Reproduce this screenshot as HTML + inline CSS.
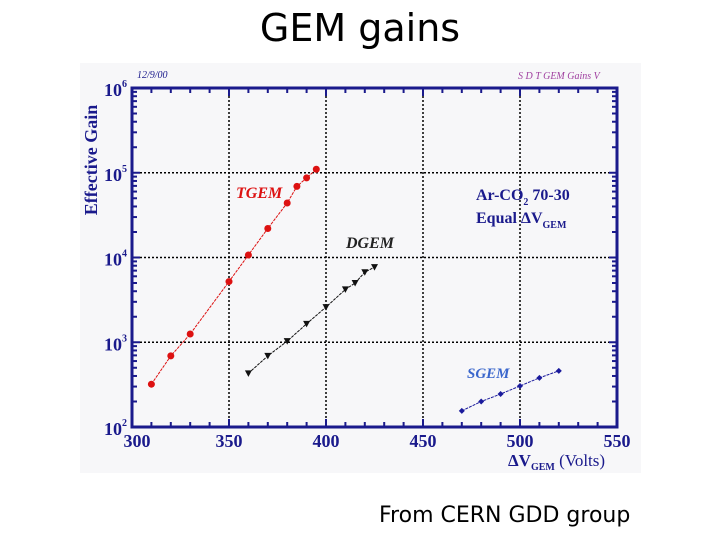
<!DOCTYPE html>
<html><head><meta charset="utf-8"><style>
body{margin:0;background:#fff;width:720px;height:540px;overflow:hidden;position:relative;font-family:"Liberation Sans",sans-serif}
.t{position:absolute;white-space:nowrap}
</style></head><body>
<div class="t" style="left:0;width:720px;top:6px;text-align:center;font-size:38px;font-family:'DejaVu Sans',sans-serif">GEM gains</div>
<div class="t" style="left:379px;top:503px;font-size:22px;font-family:'DejaVu Sans',sans-serif">From CERN GDD group</div>
<svg id="c" style="position:absolute;left:0;top:0" width="720" height="540" font-family="Liberation Serif,serif"></svg>
<script>
const tgemX=[310,320,330,350,360,370,380,385,390,395];
const tgemY=[320,690,1250,5200,10700,22000,44000,69000,87000,110000];
const dgemX=[360,370,380,390,400,410,415,420,425];
const dgemY=[430,690,1030,1650,2600,4200,5000,6700,7700];
const sgemX=[470,480,490,500,510,520];
const sgemY=[155,200,245,305,380,460];
const xTicks=[300,350,400,450,500,550];
const yDecades=[2,3,4,5,6];
const NS='http://www.w3.org/2000/svg';
const svg=document.getElementById('c');
const L=132,R=617,T=88,B=427;
const sx=v=>L+(v-300)/250*(R-L);
const sy=v=>B-(Math.log10(v)-2)/4*(B-T);
function mk(tag,a,parent){const e=document.createElementNS(NS,tag);for(const k in a)e.setAttribute(k,a[k]);(parent||svg).appendChild(e);return e;}
let bg=mk('rect',{x:80,y:63,width:561,height:410,fill:'#f7f7f9'});


const navy='#1a1a8c';
xTicks.slice(1,-1).forEach(v=>{let g=mk('line',{x1:sx(v),x2:sx(v),y1:T,y2:B,stroke:'#000','stroke-width':1.5,'stroke-dasharray':'2,2'});

});
yDecades.slice(1,-1).forEach(d=>{let g=mk('line',{x1:L,x2:R,y1:sy(Math.pow(10,d)),y2:sy(Math.pow(10,d)),stroke:'#000','stroke-width':1.5,'stroke-dasharray':'2,2'});

});
for(let v=300;v<=550;v+=10){const big=v%50==0;const l=big?8:5;
mk('line',{x1:sx(v),x2:sx(v),y1:B,y2:B-l,stroke:navy,'stroke-width':2});
mk('line',{x1:sx(v),x2:sx(v),y1:T,y2:T+l,stroke:navy,'stroke-width':2});}
for(let d=2;d<6;d++)for(let m=1;m<10;m++){const y=sy(m*Math.pow(10,d));const l=m==1?8:5;
mk('line',{x1:L,x2:L+l,y1:y,y2:y,stroke:navy,'stroke-width':2});
mk('line',{x1:R,x2:R-l,y1:y,y2:y,stroke:navy,'stroke-width':2});}
let fr=mk('rect',{x:L,y:T,width:R-L,height:B-T,fill:'none',stroke:navy,'stroke-width':3});


xTicks.forEach(v=>{let t=mk('text',{x:sx(v)+(v==300?5:0),y:B+20,'text-anchor':'middle','font-size':18,'font-weight':'bold',fill:navy});t.textContent=v;

});
yDecades.forEach(d=>{let t=mk('text',{x:L-5,y:sy(Math.pow(10,d))+8,'text-anchor':'end','font-size':18,'font-weight':'bold',fill:navy});t.innerHTML='10<tspan font-size="10" dy="-9">'+d+'</tspan>';

});
function series(xs,ys,col,name,shape){
 const pts=xs.map((x,i)=>sx(x)+','+sy(ys[i])).join(' ');
 let p=mk('polyline',{points:pts,fill:'none',stroke:col,'stroke-width':1,'stroke-dasharray':'3,1'});
 
 
 xs.forEach((x,i)=>{const cx=sx(x),cy=sy(ys[i]);let m;
  if(shape=='c')m=mk('circle',{cx:cx,cy:cy,r:3.5,fill:col});
  else if(shape=='t')m=mk('polygon',{points:(cx-3.5)+','+(cy-3)+' '+(cx+3.5)+','+(cy-3)+' '+cx+','+(cy+3.5),fill:col});
  else m=mk('polygon',{points:cx+','+(cy-3)+' '+(cx+3)+','+cy+' '+cx+','+(cy+3)+' '+(cx-3)+','+cy,fill:col});
  
  });
}
series(tgemX,tgemY,'#dd1111','tgem','c');
series(dgemX,dgemY,'#111','dgem','t');
series(sgemX,sgemY,'#1a1a9c','sgem','d');
function txt(x,y,s,sz,col,extra,name){let t=mk('text',Object.assign({x:x,y:y,'font-size':sz,fill:col},extra||{}));t.innerHTML=s;

return t;}
txt(236,198,'TGEM',16,'#dd1111',{'font-weight':'bold','font-style':'italic'},'tgem-label');
txt(346,248,'DGEM',16,'#222',{'font-weight':'bold','font-style':'italic'},'dgem-label');
txt(467,378,'SGEM',15,'#3a66cc',{'font-weight':'bold','font-style':'italic'},'sgem-label');
txt(476,200,'Ar-CO<tspan font-size="10" dy="5">2</tspan><tspan dy="-5"> 70-30</tspan>',16,navy,{'font-weight':'bold'},'gas-annotation');
txt(476,223,'Equal ΔV<tspan font-size="10" dy="5">GEM</tspan>',16,navy,{'font-weight':'bold'},'voltage-annotation');
txt(508,466,'ΔV<tspan font-size="10" dy="4">GEM</tspan><tspan dy="-4" font-weight="normal"> (Volts)</tspan>',17,navy,{'font-weight':'bold'},'x-axis-title');
txt(0,0,'Effective Gain',18,navy,{'font-weight':'bold','text-anchor':'middle',transform:'translate(97,160) rotate(-90)'},'y-axis-title');
txt(137,78,'12/9/00',10,navy,{'font-style':'italic'},'date-label');
txt(518,79,'S D T GEM Gains V',10,'#a040a0',{'font-style':'italic'},'file-label');
</script>
</body></html>
